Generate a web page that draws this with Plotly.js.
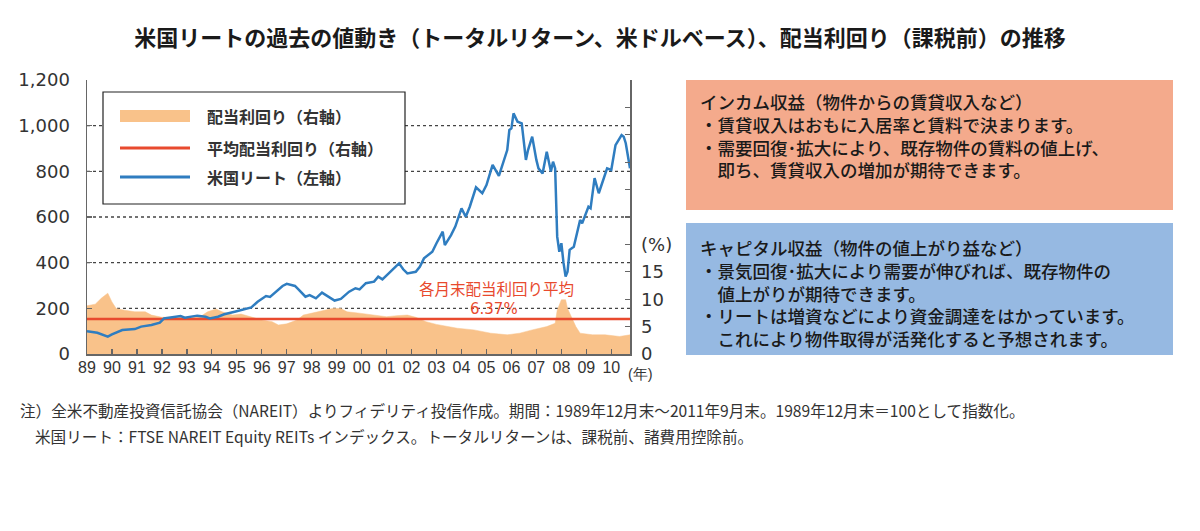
<!DOCTYPE html>
<html>
<head>
<meta charset="utf-8">
<script src="https://cdn.plot.ly/plotly-3.0.1.min.js"></script>
<style>
  html, body { margin: 0; padding: 0; background: #ffffff; }
  #chart { width: 1200px; height: 531px; }
</style>
</head>
<body>
<div id="chart"></div>
<script>
// ---- data ----
const reitDates = ['1989-12','1990-05','1990-10','1990-12','1991-05','1991-11','1992-02','1992-07','1992-11',
  '1993-01','1993-05','1993-09','1993-11','1994-02','1994-05','1994-09','1994-11','1995-03','1995-06','1995-11',
  '1996-04','1996-07','1996-10','1997-02','1997-04','1997-07','1997-10','1997-12','1998-04','1998-06','1998-09',
  '1998-11','1999-02','1999-05','1999-07','1999-11','2000-02','2000-06','2000-09','2000-11','2001-02','2001-06',
  '2001-08','2001-10','2002-01','2002-03','2002-06','2002-08','2002-10','2003-02','2003-04','2003-06','2003-10',
  '2003-12','2004-03','2004-04','2004-07','2004-09','2004-12','2005-02','2005-04','2005-07','2005-10','2005-12',
  '2006-03','2006-06','2006-08','2006-10','2006-11','2006-12','2007-01','2007-03','2007-05','2007-07','2007-08',
  '2007-10','2007-12','2008-01','2008-03','2008-05','2008-07','2008-08','2008-09','2008-10','2008-11','2008-12',
  '2009-01','2009-02','2009-03','2009-04','2009-06','2009-09','2009-10','2010-01','2010-02','2010-04','2010-06',
  '2010-08','2010-10','2010-12','2011-02','2011-05','2011-06','2011-07','2011-09'];
const reitValues = [100,93,76,86,105,109,120,127,137,
  156,161,166,159,163,168,163,156,163,174,185,
  196,204,229,254,250,273,298,307,298,280,251,
  258,244,269,258,234,241,273,288,283,310,317,
  339,327,353,371,397,371,353,360,382,419,448,
  485,536,477,521,558,638,601,645,730,704,740,
  828,780,842,893,981,988,1054,1017,1010,850,893,
  952,850,813,791,886,799,842,813,514,448,485,
  400,339,360,456,470,587,572,645,638,770,704,
  755,813,806,915,959,952,923,813];

const yieldDates = ['1989-12','1990-04','1990-07','1990-10','1990-12','1991-02','1991-06','1991-11','1992-04',
  '1992-07','1992-12','1993-11','1994-06','1994-10','1995-02','1995-05','1995-10','1996-02','1996-07','1996-12',
  '1997-05','1997-08','1997-12','1998-05','1998-08','1999-01','1999-06','1999-10','2000-02','2000-05','2000-10',
  '2001-02','2001-07','2001-12','2002-05','2002-10','2003-02','2003-07','2003-12','2004-05','2004-10','2005-06',
  '2006-02','2006-10','2007-04','2007-10','2008-05','2008-09','2008-10','2008-12','2009-02','2009-03','2009-05',
  '2009-07','2009-09','2010-03','2010-09','2011-04','2011-09'];
const yieldValues = [8.8,9.1,10.2,11.1,9.5,8.3,8.0,7.7,7.7,
  7.1,6.7,6.7,6.7,7.7,8.2,7.7,7.1,7.3,6.7,6.2,
  5.9,5.3,5.5,6.2,7.1,7.5,8.0,8.3,8.3,7.7,7.5,
  7.3,7.1,6.8,7.0,7.1,6.7,5.9,5.4,5.0,4.7,4.4,
  3.8,3.5,3.8,4.4,5.0,5.6,8.0,9.9,9.9,8.3,6.8,
  5.0,3.8,3.5,3.5,3.2,3.5];
const avgYield = 6.37;

const yearTickDates = ['1989-12-01','1990-12-01','1991-12-01','1992-12-01','1993-12-01','1994-12-01',
  '1995-12-01','1996-12-01','1997-12-01','1998-12-01','1999-12-01','2000-12-01','2001-12-01','2002-12-01',
  '2003-12-01','2004-12-01','2005-12-01','2006-12-01','2007-12-01','2008-12-01','2009-12-01','2010-12-01'];
const yearTickLabels = ['89','90','91','92','93','94','95','96','97','98','99','00','01','02','03','04','05',
  '06','07','08','09','10'];
const leftTickVals = [0,200,400,600,800,1000,1200];
const leftTickText = ['0','200','400','600','800','1,000','1,200'];
const rightTickVals = [0,5,10,15,20,25,30,35,40,45,50];
const rightTickText = ['0','5','10','15','(%)','','','','','',''];
const gridVals = [200,400,600,800,1000];

const legendLabels = ['配当利回り（右軸）','平均配当利回り（右軸）','米国リート（左軸）'];
const titleText = '米国リートの過去の値動き（トータルリターン、米ドルベース）、配当利回り（課税前）の推移';
const avgLabel = '各月末配当利回り平均';
const incomeLines = ['インカム収益（物件からの賃貸収入など）',
  '・賃貸収入はおもに入居率と賃料で決まります。',
  '・需要回復･拡大により、既存物件の賃料の値上げ、',
  '　即ち、賃貸収入の増加が期待できます。'];
const capitalLines = ['キャピタル収益（物件の値上がり益など）',
  '・景気回復･拡大により需要が伸びれば、既存物件の',
  '　値上がりが期待できます。',
  '・リートは増資などにより資金調達をはかっています。',
  '　これにより物件取得が活発化すると予想されます。'];
const noteLines = ['注）全米不動産投資信託協会（NAREIT）よりフィデリティ投信作成。期間：1989年12月末～2011年9月末。1989年12月末＝100として指数化。',
  '米国リート：FTSE NAREIT Equity REITs インデックス。トータルリターンは、課税前、諸費用控除前。'];

// ---- styling / layout helpers ----
const W = 1200, H = 531;
const PL = 87, PR = 630, PT = 80, PB = 354;
const px = x => (x - PL) / (PR - PL);
const py = y => (PB - y) / (PB - PT);
const JP = '"Noto Sans CJK JP", "Noto Sans", sans-serif';
const NUM = '"DejaVu Sans", "Liberation Sans", sans-serif';
const NARROW = '"Liberation Sans Narrow", "Liberation Sans", sans-serif';
const C_ORANGE = '#F9C28A', C_RED = '#E84A2E', C_BLUE = '#2F7DC0', C_AXIS = '#666666';

const traces = [
  { x: yieldDates, y: yieldValues, yaxis: 'y', type: 'scatter', mode: 'lines',
    fill: 'tozeroy', fillcolor: C_ORANGE, line: { color: C_ORANGE, width: 0.5 }, hoverinfo: 'skip' },
  { x: [yieldDates[0], yieldDates[yieldDates.length - 1]], y: [avgYield, avgYield], yaxis: 'y',
    type: 'scatter', mode: 'lines', line: { color: C_RED, width: 2.5 }, hoverinfo: 'skip' },
  { x: reitDates, y: reitValues, yaxis: 'y2', type: 'scatter', mode: 'lines',
    line: { color: C_BLUE, width: 2.5 }, hoverinfo: 'skip' }
];

const shapes = [];
gridVals.forEach(v => shapes.push({ type: 'line', xref: 'paper', yref: 'y2', x0: 0, x1: 1, y0: v, y1: v,
  line: { color: '#444', width: 1.3, dash: 'dot' }, layer: 'below' }));
// legend box and swatches
shapes.push({ type: 'rect', xref: 'paper', yref: 'paper', x0: px(103), x1: px(405), y0: py(204), y1: py(92),
  fillcolor: '#ffffff', line: { color: '#222', width: 1.2 }, layer: 'above' });
shapes.push({ type: 'rect', xref: 'paper', yref: 'paper', x0: px(120), x1: px(190), y0: py(122), y1: py(110),
  fillcolor: C_ORANGE, line: { width: 0 }, layer: 'above' });
shapes.push({ type: 'line', xref: 'paper', yref: 'paper', x0: px(120), x1: px(190), y0: py(148), y1: py(148),
  line: { color: C_RED, width: 3 }, layer: 'above' });
shapes.push({ type: 'line', xref: 'paper', yref: 'paper', x0: px(120), x1: px(190), y0: py(177), y1: py(177),
  line: { color: C_BLUE, width: 3 }, layer: 'above' });
// right side boxes
shapes.push({ type: 'rect', xref: 'paper', yref: 'paper', x0: px(686), x1: px(1173), y0: py(210), y1: py(80),
  fillcolor: '#F4AA8C', line: { width: 0 }, layer: 'above' });
shapes.push({ type: 'rect', xref: 'paper', yref: 'paper', x0: px(686), x1: px(1173), y0: py(355), y1: py(223),
  fillcolor: '#96B9E2', line: { width: 0 }, layer: 'above' });

const annotations = [];
const addText = (text, x, y, font, opts) => annotations.push(Object.assign({
  text: text, xref: 'paper', yref: 'paper', x: px(x), y: py(y), xanchor: 'left', yanchor: 'middle',
  showarrow: false, font: font
}, opts || {}));

[116, 148, 177].forEach((yy, i) => addText(legendLabels[i], 205, yy,
  { family: JP, size: 16, color: '#333', weight: 'bold' }));
addText(avgLabel, 496, 288, { family: JP, size: 15.5, color: C_RED }, { xanchor: 'center' });
addText(avgYield.toFixed(2) + '%', 494, 309, { family: NUM, size: 15, color: C_RED }, { xanchor: 'center' });
addText('(年)', 626, 374, { family: NARROW, size: 14.5, color: '#333' });

const boxFont = { family: JP, size: 17.5, color: '#1a1a1a', weight: 500 };
addText(incomeLines.join('<br>'), 698, 135, boxFont, { align: 'left' });
addText(capitalLines.join('<br>'), 698, 293, boxFont, { align: 'left' });

addText(noteLines[0], 18, 410, { family: JP, size: 15.6, color: '#333' });
addText(noteLines[1], 33, 436, { family: JP, size: 15.6, color: '#333' });

const axisCommon = { showline: true, linecolor: C_AXIS, linewidth: 1.5, ticks: 'inside', ticklen: 5,
  tickcolor: C_AXIS, tickwidth: 1.3, showgrid: false, zeroline: false, fixedrange: true };

const layout = {
  width: W, height: H, paper_bgcolor: '#ffffff', plot_bgcolor: 'rgba(0,0,0,0)',
  margin: { l: PL, r: W - PR, t: PT, b: H - PB, pad: 0 },
  showlegend: false,
  title: { text: titleText, font: { family: JP, size: 22, color: '#1a1a1a', weight: 'bold' },
    x: 0.5, xanchor: 'center', xref: 'container', y: 1 - 38 / H, yanchor: 'middle', yref: 'container' },
  xaxis: Object.assign({}, axisCommon, { type: 'date', range: [reitDates[0] + '-01', reitDates[reitDates.length - 1] + '-01'],
    tickmode: 'array', tickvals: yearTickDates, ticktext: yearTickLabels,
    tickfont: { family: NARROW, size: 16, color: '#333' }, ticklabelstandoff: -2 }),
  yaxis: Object.assign({}, axisCommon, { side: 'right', range: [0, 50], tickmode: 'array',
    tickvals: rightTickVals, ticktext: rightTickText, tickfont: { family: NUM, size: 18, color: '#333' },
    ticklabelstandoff: 6 }),
  yaxis2: Object.assign({}, axisCommon, { overlaying: 'y', side: 'left', anchor: 'x', range: [0, 1200], tickmode: 'array',
    tickvals: leftTickVals, ticktext: leftTickText, tickfont: { family: NUM, size: 18, color: '#333' },
    ticklabelstandoff: 12 }),
  shapes: shapes,
  annotations: annotations
};

Plotly.newPlot('chart', traces, layout, { displayModeBar: false, staticPlot: true });
</script>
</body>
</html>
